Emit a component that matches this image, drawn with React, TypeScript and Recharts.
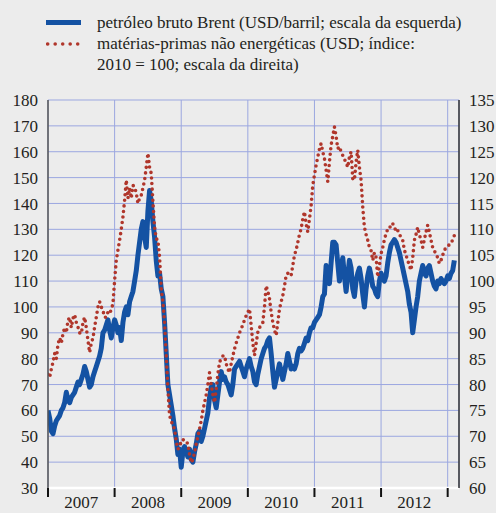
import React from 'react';
import { LineChart, Line, XAxis, YAxis, CartesianGrid } from 'recharts';

// weekly-ish samples, 40 per year, starting at the beginning of 2007
const sampleStart = 2007;
const samplesPerYear = 40;

// Brent crude, USD per barrel (left scale)
const brentPrices = [
  60, 57, 52, 51, 54, 56, 57, 58, 60, 61,
  63, 67, 64, 63, 65, 66, 67, 69, 71, 70,
  72, 74, 77, 75, 72, 69, 70, 73, 75, 77,
  79, 81, 84, 90, 91, 93, 95, 91, 88, 92,
  95, 93, 90, 92, 87, 94, 98, 100, 97, 102,
  104, 106, 110, 114, 120, 125, 130, 133, 127, 123,
  137, 145, 141, 133, 127, 118, 112, 113, 107, 104,
  94, 82, 70, 66, 62, 58, 53, 49, 43, 45,
  38, 44, 46, 44, 42, 45, 41, 40, 44, 47,
  51, 52, 48, 50, 53, 56, 59, 65, 69, 70,
  64, 61, 66, 71, 75, 72, 73, 71, 70, 68,
  66, 70, 76, 77, 78, 79, 77, 75, 73, 76,
  78, 80, 77, 75, 71, 70, 74, 77, 80, 82,
  84, 85, 87, 88, 82, 75, 69, 72, 75, 78,
  75, 72, 75, 78, 82, 79, 76, 77, 76, 78,
  82, 84, 83, 84, 86, 88, 87, 90, 92, 92,
  94, 95, 96, 97, 100, 104, 105, 116, 112, 109,
  117, 125, 125, 124, 117, 110, 115, 119, 112, 106,
  112, 118, 115, 107, 104, 110, 113, 115, 111, 105,
  100, 107, 112, 115, 112, 108, 107, 105, 104, 110,
  113, 111, 110, 112, 117, 121, 124, 125, 126, 125,
  123, 121, 118, 115, 112, 109, 106, 101, 98, 90,
  95, 100, 104, 110, 113, 116, 113, 112, 115, 116,
  113, 110, 108, 107, 110, 109, 111, 110, 109, 110,
  112, 111, 113, 114, 118,
];

// non-energy commodities, USD index 2010 = 100 (right scale)
const commodityIndex = [
  82, 81.4, 83, 84.3, 86, 85, 87.8, 89, 88, 89.8,
  91, 90, 92.4, 93, 91, 92.8, 93.5, 92, 91.1, 90,
  89.8, 92, 93, 91, 88.5, 86.2, 88, 89, 91.1, 93,
  95, 96, 95, 94.3, 93, 93, 94, 93.7, 94.5, 95.6,
  100.1, 104, 106, 107.9, 110, 112.4, 115.6, 119.5, 116, 118,
  116, 118.5, 118.2, 117, 115, 116, 116.6, 118, 119.5, 122,
  124.7, 122, 120.8, 115.3, 110.4, 108.2, 107.9, 104.6, 98.5, 96,
  92, 85.6, 79.1, 74, 73, 72, 71.4, 69, 67.5, 68,
  69, 69.4, 69, 69, 68.5, 66.5, 64.9, 65.5, 66.8, 68.5,
  70, 71.4, 73, 75, 76.5, 78, 80, 82.3, 80, 78,
  76.5, 79, 82, 84.3, 85, 85.5, 85.6, 84, 83, 82.3,
  84, 85.5, 86.9, 88, 89, 90, 90.8, 91.5, 92.5, 93.3,
  94, 94.6, 91.4, 88, 85.6, 88, 90.1, 91, 91.5, 92,
  95, 99.1, 98, 96.6, 94, 92, 90.5, 89.5, 92, 94.6,
  96, 97.2, 99, 101.1, 101.5, 101, 101.1, 103, 105, 106,
  107.5, 109, 110.1, 112, 113.4, 111, 109.5, 112, 114.6, 118.5,
  120.5, 122.4, 124, 125.5, 126.6, 125, 123.7, 121.5, 119.2, 123,
  126.3, 128, 129.8, 128, 125.6, 126, 125, 124.3, 123.5, 123,
  122, 124, 125, 119.8, 119.5, 123, 125.3, 122, 119.5, 114.3,
  110.4, 109, 107.9, 106.5, 105.9, 104, 105.5, 104.6, 100.8, 103,
  105.3, 106.5, 108, 109.2, 110, 110, 111.1, 111.1, 110.5, 109.5,
  109.8, 109, 108.5, 107.9, 106, 105, 104, 103, 102.1, 104.5,
  107.9, 109, 110.4, 109, 107.9, 106.5, 108, 109.5, 110.8, 109.5,
  107.9, 106.5, 105.8, 105.3, 104.5, 103.4, 104, 105, 105.9, 106.5,
  106.8, 107, 107.2, 108, 108.8,
];

const yearTicks = [2007, 2008, 2009, 2010, 2011, 2012, 2013];
const leftTicks = [30, 40, 50, 60, 70, 80, 90, 100, 110, 120, 130, 140, 150, 160, 170, 180];
const rightTicks = [60, 65, 70, 75, 80, 85, 90, 95, 100, 105, 110, 115, 120, 125, 130, 135];

const legendBrent = 'petróleo bruto Brent (USD/barril; escala da esquerda)';
const legendCommodity = 'matérias-primas não energéticas (USD; índice:';
const legendCommodity2 = '2010 = 100; escala da direita)';

const brentData = brentPrices.map((v, i) => ({ t: sampleStart + i / samplesPerYear, v }));
const commodityData = commodityIndex.map((v, i) => ({ t: sampleStart + i / samplesPerYear, v }));

const FONT = 'Liberation Serif, Tinos, DejaVu Serif, serif';
const TEXT = '#231f20';
const BLUE = '#1452a3';
const RED = '#b0362b';
const GRID = '#9ba7e0';

const YearTick = (props: any) => {
  const { x, y, payload } = props;
  return (
    <g>
      <line x1={x} y1={y} x2={x} y2={y + 9} stroke="#111" strokeWidth={2} />
      {payload.value < 2013 && (
        <text x={x + 33.3} y={y + 20} textAnchor="middle" fill={TEXT} fontSize={17} fontFamily={FONT}>
          {payload.value}
        </text>
      )}
    </g>
  );
};

const App: React.FC = () => {
  return (
    <div style={{ position: 'absolute', left: 0, top: 0, width: 496, height: 513, background: '#ececec', overflow: 'hidden' }}>
      <div style={{ position: 'absolute', left: 46, top: 12, fontFamily: FONT, fontSize: 17, lineHeight: '21px', color: TEXT, whiteSpace: 'nowrap' }}>
        <div style={{ display: 'flex', alignItems: 'center' }}>
          <svg width={51} height={21}>
            <rect x={0} y={8} width={35} height={5} fill={BLUE} />
          </svg>
          <span>{legendBrent}</span>
        </div>
        <div style={{ display: 'flex', alignItems: 'center' }}>
          <svg width={51} height={21}>
            {[1.7, 9.2, 16.7, 24.2, 31.7].map((cx) => (
              <circle key={cx} cx={cx} cy={11} r={1.8} fill={RED} />
            ))}
          </svg>
          <span>{legendCommodity}</span>
        </div>
        <div style={{ paddingLeft: 51 }}>{legendCommodity2}</div>
      </div>

      <LineChart width={496} height={513} margin={{ top: 100, right: 0, bottom: 0, left: 0 }}>
        <CartesianGrid stroke={GRID} strokeWidth={1} yAxisId="left" />
        <XAxis
          dataKey="t"
          type="number"
          domain={[2007, 2013.17]}
          ticks={yearTicks}
          interval={0}
          height={25}
          axisLine={{ stroke: '#ffffff', strokeWidth: 2.5 }}
          tickLine={false}
          tickSize={0}
          tickMargin={0}
          tick={<YearTick />}
          allowDataOverflow
        />
        <YAxis
          yAxisId="left"
          orientation="left"
          width={48}
          domain={[30, 180]}
          ticks={leftTicks}
          interval={0}
          axisLine={{ stroke: '#555', strokeWidth: 1.5 }}
          tickLine={false}
          tickMargin={4}
          tick={{ fill: TEXT, fontSize: 17, fontFamily: FONT }}
        />
        <YAxis
          yAxisId="right"
          orientation="right"
          width={37}
          domain={[60, 135]}
          ticks={rightTicks}
          interval={0}
          axisLine={{ stroke: '#333', strokeWidth: 1.5 }}
          tickLine={false}
          tickMargin={4}
          tick={{ fill: TEXT, fontSize: 17, fontFamily: FONT, textAnchor: 'start' }}
        />
        <Line
          yAxisId="left"
          data={brentData}
          dataKey="v"
          type="linear"
          stroke={BLUE}
          strokeWidth={5}
          strokeLinejoin="round"
          dot={false}
          isAnimationActive={false}
        />
        <Line
          yAxisId="right"
          data={commodityData}
          dataKey="v"
          type="linear"
          stroke={RED}
          strokeWidth={3.6}
          strokeDasharray="0 5.6"
          strokeLinecap="round"
          dot={false}
          isAnimationActive={false}
        />
      </LineChart>
    </div>
  );
};

export default App;
